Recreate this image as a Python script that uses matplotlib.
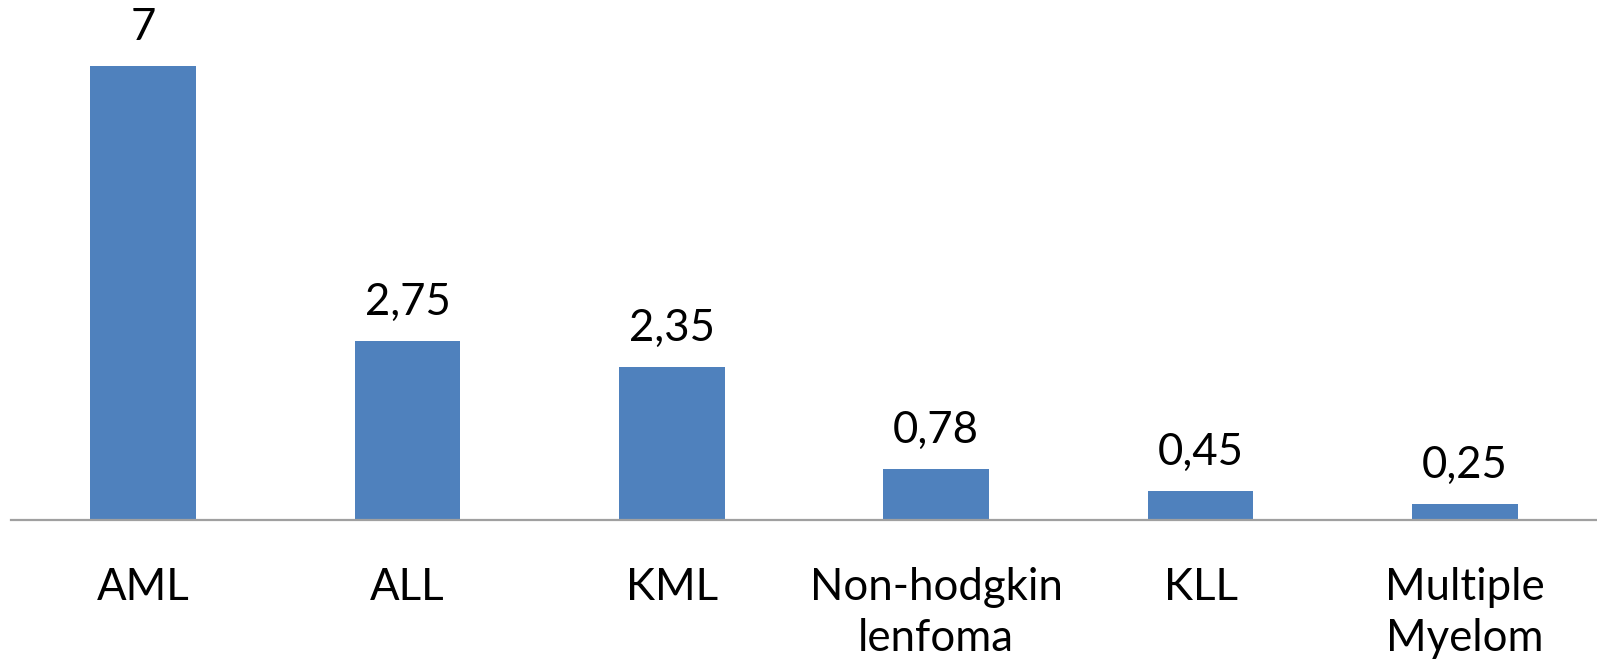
import matplotlib
matplotlib.use("Agg")
import matplotlib.pyplot as plt

categories = ["AML", "ALL", "KML", "Non-hodgkin\nlenfoma", "KLL", "Multiple\nMyelom"]
values = [7, 2.75, 2.35, 0.78, 0.45, 0.25]
value_labels = ["7", "2,75", "2,35", "0,78", "0,45", "0,25"]

plt.rcParams["font.family"] = ["Lato", "DejaVu Sans"]

fig = plt.figure(figsize=(15.97, 6.62), dpi=100)
ax = fig.add_axes([11 / 1597, 142 / 662, 1 - 11 / 1597, 520 / 662])

x = list(range(len(categories)))
bars = ax.bar(x, values, width=0.4, color="#4F81BD", zorder=2)

ax.set_xlim(-0.5, len(categories) - 0.5)
ax.set_ylim(0, 8.01)

for rect, lab in zip(bars, value_labels):
    ax.annotate(lab, (rect.get_x() + rect.get_width() / 2, rect.get_height()),
                xytext=(0, 13), textcoords="offset points",
                ha="center", va="bottom", fontsize=31.5, color="black")

ax.set_xticks(x)
ax.set_xticklabels(categories, fontsize=31.5, linespacing=1.3)
ax.tick_params(axis="x", length=0, pad=34)
ax.set_yticks([])

for side in ("top", "right", "left"):
    ax.spines[side].set_visible(False)
ax.spines["bottom"].set_color("#A0A0A0")
ax.spines["bottom"].set_linewidth(1.6)
ax.patch.set_alpha(0)

fig.savefig("out.png", dpi=100)
